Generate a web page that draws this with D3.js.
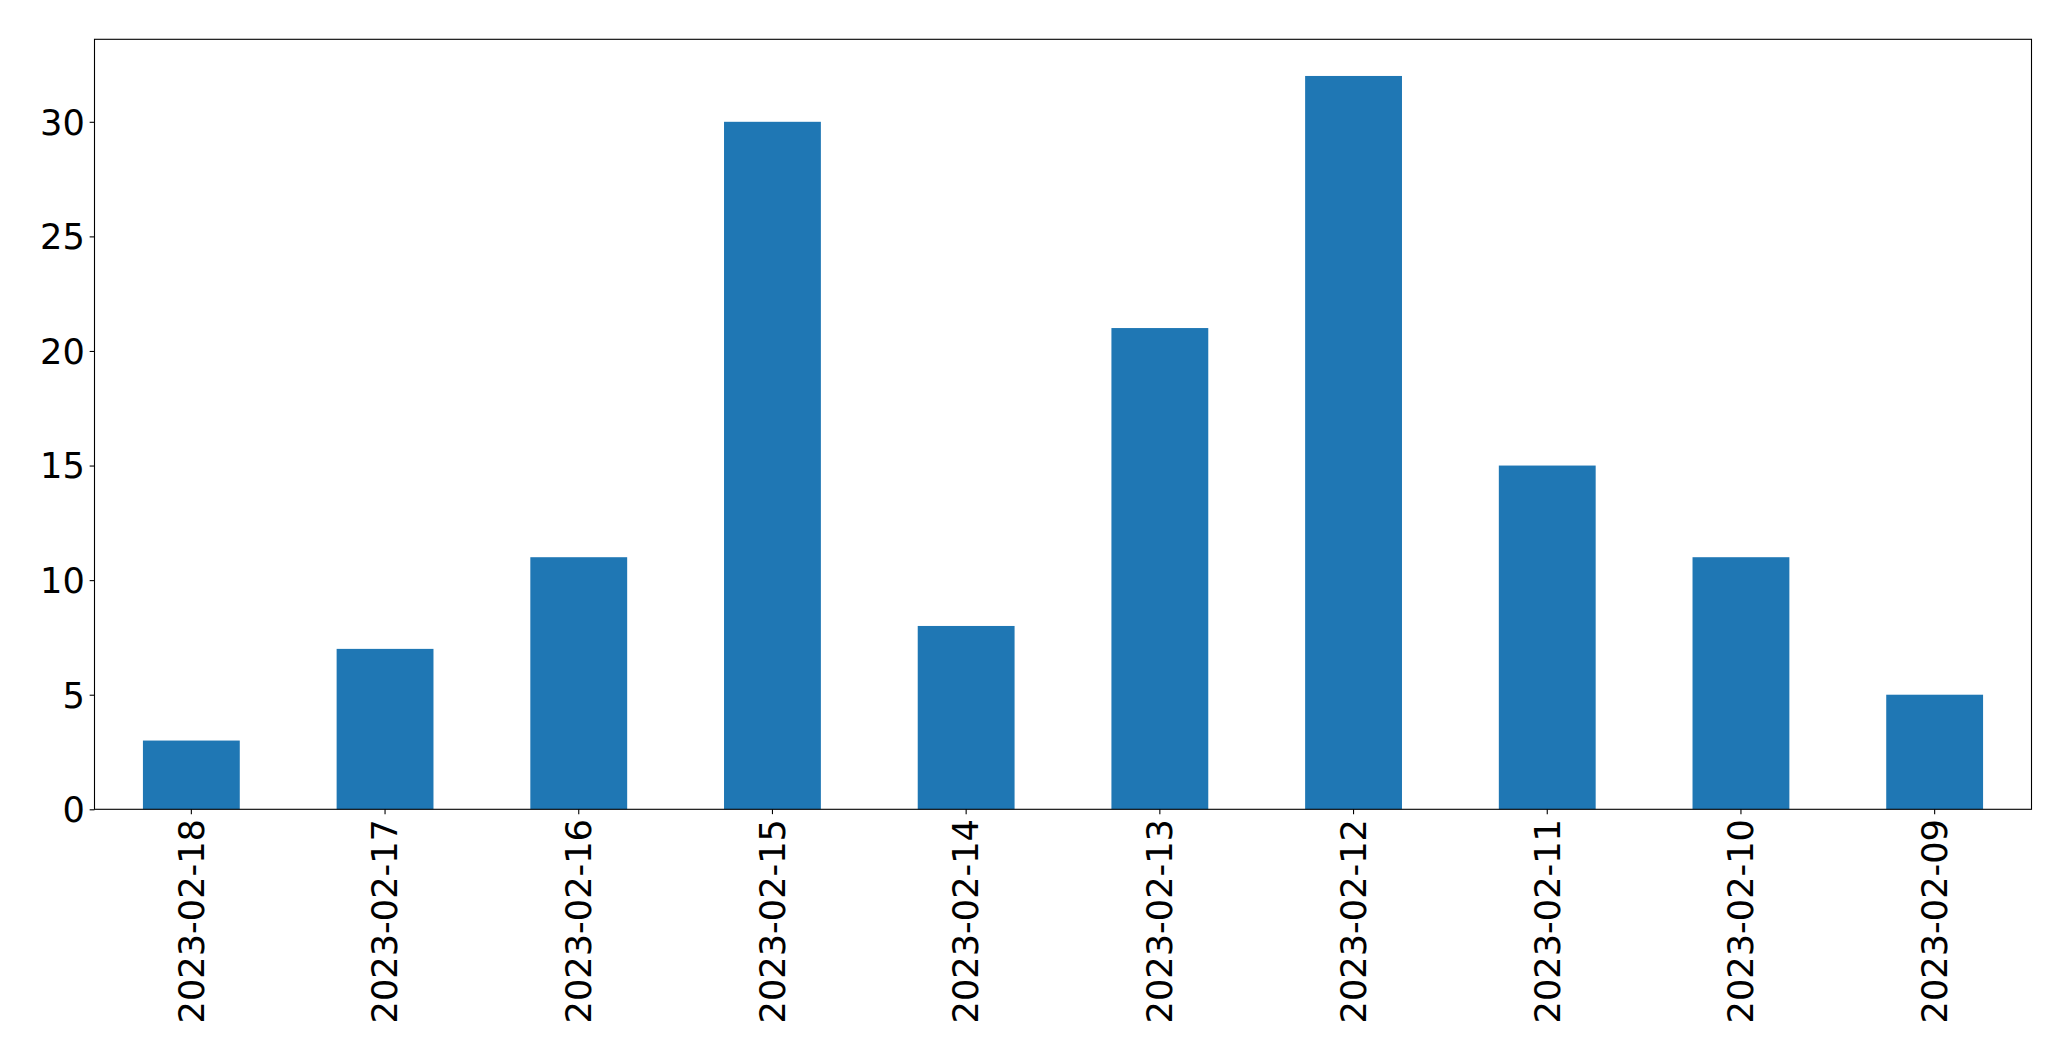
<!DOCTYPE html>
<html>
<head>
<meta charset="utf-8">
<script src="https://cdn.jsdelivr.net/npm/d3@7"></script>
<style>
  html, body { margin: 0; padding: 0; background: #fff; }
  svg { display: block; }
  text { font-family: "DejaVu Sans", sans-serif; fill: #000; }
</style>
</head>
<body>
<svg id="chart" width="2071" height="1061"></svg>
<script>
const categories = ["2023-02-18","2023-02-17","2023-02-16","2023-02-15","2023-02-14","2023-02-13","2023-02-12","2023-02-11","2023-02-10","2023-02-09"];
const values = [3, 7, 11, 30, 8, 21, 32, 15, 11, 5];
const yTicks = [0, 5, 10, 15, 20, 25, 30];

const W = 2071, H = 1061;
const margin = { left: 94.5, right: W - 2031.5, top: 39.3, bottom: H - 809.3 };
const svg = d3.select("#chart");
const fontPx = 35.2;

const x = d3.scaleBand()
  .domain(categories)
  .range([margin.left, W - margin.right])
  .paddingInner(0.5)
  .paddingOuter(0.25);

const yMax = d3.max(values) * 1.05;
const y = d3.scaleLinear().domain([0, yMax]).range([H - margin.bottom, margin.top]);

svg.append("g")
  .selectAll("rect")
  .data(values)
  .join("rect")
  .attr("x", (d, i) => x(categories[i]))
  .attr("width", x.bandwidth())
  .attr("y", d => y(d))
  .attr("height", d => y(0) - y(d))
  .attr("fill", "#1f77b4");

// Axes
const xAxis = d3.axisBottom(x).tickSize(4.86).tickPadding(4.86);
const gx = svg.append("g")
  .attr("transform", `translate(0,${H - margin.bottom})`)
  .call(xAxis);
gx.select(".domain").remove();
gx.selectAll(".tick line").attr("stroke", "#000").attr("stroke-width", 1.1);
gx.selectAll(".tick text")
  .attr("font-size", fontPx)
  .attr("font-family", "DejaVu Sans")
  .attr("fill", "#000")
  .attr("transform", "rotate(-90)")
  .attr("text-anchor", "end")
  .attr("x", -9.7)
  .attr("y", 0)
  .attr("dy", "0.35em");

const yAxis = d3.axisLeft(y).tickValues(yTicks).tickSize(4.86).tickPadding(4.86);
const gy = svg.append("g")
  .attr("transform", `translate(${margin.left},0)`)
  .call(yAxis);
gy.select(".domain").remove();
gy.selectAll(".tick line").attr("stroke", "#000").attr("stroke-width", 1.1);
gy.selectAll(".tick text")
  .attr("font-size", fontPx)
  .attr("font-family", "DejaVu Sans")
  .attr("fill", "#000")
  .attr("dy", "0.35em");

// Frame
svg.append("rect")
  .attr("x", margin.left)
  .attr("y", margin.top)
  .attr("width", W - margin.right - margin.left)
  .attr("height", H - margin.bottom - margin.top)
  .attr("fill", "none")
  .attr("stroke", "#000")
  .attr("stroke-width", 1.1);
</script>
</body>
</html>
